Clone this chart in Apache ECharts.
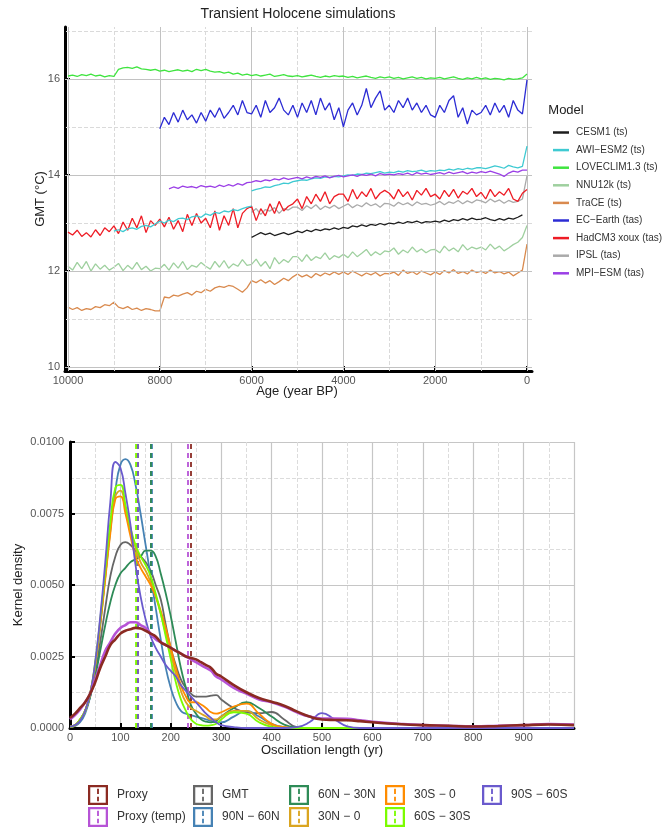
<!DOCTYPE html>
<html><head><meta charset="utf-8">
<script src="https://cdn.jsdelivr.net/npm/echarts@6/dist/echarts.min.js"></script>
<style>html,body{margin:0;padding:0;background:#fff}#c{width:662px;height:827px}</style>
</head><body><div id="c"></div>
<script>
// ---------------- Top chart data (GMT, °C; ages in year BP, 100-yr steps) ----------------
const topNames = ['CESM1 (ts)','AWI\u2212ESM2 (ts)','LOVECLIM1.3 (ts)','NNU12k (ts)','TraCE (ts)','EC\u2212Earth (tas)','HadCM3 xoux (tas)','IPSL (tas)','MPI\u2212ESM (tas)'];
const topColors = ['#1e1e1e','#3fcad2','#3fe43f','#9fd09f','#d98a4e','#2c2cd4','#ee1c25','#aaaaaa','#9b3fe6'];

const loveclim = [16.06,16.08,16.05,16.09,16.07,16.1,16.06,16.08,16.04,16.07,
16.05,16.2,16.23,16.24,16.22,16.25,16.21,16.2,16.18,16.2,
16.16,16.18,16.15,16.17,16.19,16.16,16.18,16.15,16.2,16.17,
16.2,16.16,16.14,16.15,16.12,16.14,16.1,16.12,16.08,16.1,
16.07,16.09,16.06,16.08,16.1,16.05,16.07,16.09,16.06,16.05,
16.07,16.04,16.06,16.08,16.05,16.03,16.06,16.04,16.07,16.05,
16.06,16.03,16.05,16.02,16.04,16.06,16.03,16.01,16.04,16.02,
16.04,16.01,16.03,16.0,16.02,16.04,16.01,16.03,16.0,16.02,
16.01,16.03,16.0,16.02,16.04,16.01,15.99,16.02,16.0,16.03,
16.0,16.02,15.99,16.01,16.0,15.98,16.01,15.99,16.0,16.02,16.1];
const ecEarth = [14.96,15.2,15.05,15.3,15.1,15.35,15.15,15.25,15.08,15.3,
15.12,15.35,15.2,15.4,15.18,15.3,15.45,15.25,15.55,15.3,
15.27,15.45,15.2,15.55,15.3,15.4,15.6,15.35,15.25,15.45,
15.2,15.5,15.3,15.55,15.25,15.6,15.35,15.5,15.15,15.4,
15.0,15.35,15.5,15.25,15.45,15.8,15.4,15.6,15.75,15.35,
15.45,15.3,15.55,15.4,15.6,15.35,15.5,15.3,15.45,15.25,
15.2,15.45,15.3,15.55,15.65,15.2,15.4,15.06,15.35,15.25,
15.3,15.45,15.25,15.5,15.3,15.45,15.2,15.55,15.35,15.27,15.98];
const mpiEsm = [13.71,13.75,13.72,13.77,13.74,13.76,13.73,13.78,13.75,13.77,
13.74,13.79,13.76,13.8,13.77,13.82,13.79,13.84,13.85,13.88,
13.86,13.9,13.88,13.92,13.9,13.94,13.91,13.93,13.95,13.92,
13.96,13.93,13.97,13.95,13.98,13.94,13.97,13.99,13.96,13.98,
14.0,13.97,14.01,13.99,14.02,13.98,14.03,14.0,14.02,14.0,
14.03,14.01,14.04,14.0,14.05,14.02,14.04,14.01,14.03,14.05,
14.02,14.06,14.03,14.05,14.07,14.03,14.06,14.04,14.07,14.05,
14.08,14.05,14.02,13.97,14.04,14.08,14.06,14.1,14.1];
const awiLower = [12.83,12.86,12.82,12.88,12.9,12.87,12.93,12.95,12.92,12.98,
13.04,13.0,13.06,13.03,13.09,13.1,13.07,13.13,13.15,13.12,
13.19,13.16,13.22,13.2,13.25,13.23,13.28,13.26,13.3,13.33,13.35];
const awiUpper = [13.67,13.7,13.72,13.75,13.74,13.78,13.8,13.83,13.82,13.86,
13.88,13.9,13.89,13.92,13.94,13.93,13.96,13.95,13.97,13.96,
13.98,14.0,13.99,14.02,14.01,14.04,14.03,14.05,14.07,14.04,
14.06,14.05,14.08,14.06,14.09,14.07,14.08,14.1,14.07,14.09,
14.08,14.1,14.09,14.12,14.1,14.13,14.11,14.14,14.12,14.15,
14.15,14.13,14.16,14.19,14.17,14.14,14.2,14.17,14.15,14.18,14.6];
const hadcm3 = [12.81,12.75,12.85,12.72,12.8,12.71,12.86,12.74,12.9,12.82,
12.94,12.78,13.02,12.85,13.1,12.9,13.15,12.8,13.05,12.95,
13.08,12.92,13.12,12.87,13.05,12.82,13.18,12.95,13.2,13.0,
13.1,12.9,13.25,12.85,13.15,12.95,13.3,12.9,13.2,13.3,
13.35,13.05,13.3,13.15,13.4,13.2,13.45,13.25,13.35,13.4,
13.5,13.3,13.55,13.4,13.6,13.45,13.65,13.4,13.55,13.6,
13.6,13.45,13.7,13.5,13.65,13.55,13.72,13.5,13.62,13.68,
13.62,13.5,13.7,13.55,13.65,13.48,13.68,13.58,13.72,13.55,
13.6,13.5,13.68,13.55,13.7,13.52,13.66,13.6,13.72,13.55,
13.64,13.5,13.7,13.55,13.65,13.58,13.72,13.5,13.45,13.62,13.7];
const ipsl = [13.22,13.3,13.18,13.28,13.25,13.32,13.2,13.3,13.27,13.33,
13.33,13.26,13.36,13.3,13.38,13.28,13.35,13.31,13.37,13.3,
13.35,13.4,13.32,13.38,13.34,13.42,13.36,13.4,13.33,13.41,
13.4,13.35,13.43,13.38,13.42,13.36,13.44,13.39,13.41,13.37,
13.4,13.45,13.38,13.44,13.41,13.47,13.4,13.46,13.42,13.48,
13.46,13.42,13.5,13.44,13.48,13.41,13.47,13.43,13.45,13.5,13.98];
const cesm1 = [12.7,12.75,12.8,12.76,12.79,12.74,12.77,12.8,12.76,12.79,
12.83,12.8,12.85,12.82,12.87,12.84,12.88,12.86,12.9,12.87,
12.91,12.89,12.94,12.92,12.96,12.93,12.97,12.95,12.99,12.96,
13.0,12.98,13.02,12.99,13.03,13.01,13.04,13.0,13.03,13.02,
13.04,13.02,13.06,13.03,13.07,13.05,13.09,13.06,13.1,13.07,
13.08,13.11,13.07,13.05,13.09,13.06,13.1,13.08,13.12,13.17];
const nnu12k = [12.1,12.02,12.18,12.05,12.2,12.0,12.15,12.04,12.12,12.02,
12.08,12.16,12.01,12.12,12.04,12.18,12.03,12.1,12.0,12.06,
12.05,12.14,12.02,12.17,12.06,12.2,12.03,12.12,12.08,12.18,
12.1,12.04,12.2,12.08,12.22,12.06,12.15,12.1,12.24,12.12,
12.14,12.25,12.1,12.2,12.05,12.28,12.15,12.24,12.18,12.3,
12.3,12.2,12.34,12.22,12.3,12.26,12.38,12.24,12.32,12.28,
12.35,12.28,12.4,12.3,12.37,12.45,12.32,12.4,12.34,12.42,
12.4,12.48,12.35,12.44,12.38,12.5,12.4,12.46,12.38,12.44,
12.45,12.38,12.52,12.42,12.48,12.4,12.55,12.44,12.5,12.46,
12.5,12.44,12.56,12.46,12.52,12.42,12.48,12.55,12.6,12.7,12.95];
const trace = [11.25,11.2,11.24,11.18,11.22,11.2,11.26,11.24,11.3,11.28,
11.35,11.25,11.22,11.26,11.2,11.23,11.18,11.22,11.2,11.17,
11.17,11.46,11.44,11.5,11.48,11.52,11.55,11.5,11.58,11.55,
11.62,11.58,11.65,11.68,11.66,11.7,11.68,11.62,11.56,11.65,
11.8,11.76,11.82,11.75,11.8,11.72,11.78,11.85,11.8,11.88,
11.94,11.88,11.92,11.86,11.95,11.9,11.96,11.92,11.98,11.93,
11.98,11.93,12.0,11.95,11.9,11.96,11.92,11.97,11.9,11.95,
11.94,11.98,11.91,12.02,11.95,11.99,11.93,12.0,11.96,11.92,
11.98,11.93,12.01,11.96,12.03,11.95,11.99,11.94,12.02,11.97,
12.0,11.95,12.02,11.96,11.99,11.94,11.98,11.9,11.96,12.02,12.56];

const topXTicks = [0,2000,4000,6000,8000,10000];
const topXMinor = [1000,3000,5000,7000,9000];
const topYTicks = [10,12,14,16];
const topYMinor = [11,13,15,17];

// ---------------- Bottom chart data (kernel density of oscillation length, yr) ----------------
const densX = [0,10,20,30,40,50,60,70,80,90,100,110,120,130,140,150,160,170,180,190,200,210,220,230,240,250,260,270,280,290,300,
325,350,375,400,425,450,475,500,525,550,575,600,650,700,750,800,850,900,950,1000];
const bottomNames = ['Proxy','Proxy (temp)','GMT','90N \u2212 60N','60N \u2212 30N','30N \u2212 0','30S \u2212 0','60S \u2212 30S','90S \u2212 60S'];
const bottomColors = ['#8b2a22','#b653d6','#666666','#4682b4','#2e8b57','#daa520','#ff8c00','#7cfc00','#6a5acd'];
const dProxy = [0.00035,0.0005,0.0007,0.0009,0.0012,0.0016,0.0021,0.0025,0.0029,0.0031,0.0033,0.0034,0.00345,0.0035,0.00348,0.0034,0.0033,0.0032,0.003,0.0029,0.0028,0.0027,0.0026,0.0025,0.00245,0.0024,0.0023,0.0022,0.0021,0.0019,0.0018,
0.0015,0.00125,0.00105,0.00092,0.00078,0.00058,0.0004,0.0003,0.00028,0.00027,0.00024,0.0002,
0.00014,0.0001,0.00008,0.00005,0.00007,0.0001,0.00012,0.0001];
const dProxyTemp = [0.0003,0.00045,0.00065,0.0009,0.0012,0.0017,0.0022,0.0027,0.003,0.0033,0.0035,0.0036,0.0037,0.0037,0.0036,0.0035,0.0033,0.0031,0.003,0.0029,0.0028,0.0027,0.0026,0.0025,0.0024,0.0023,0.0022,0.0021,0.002,0.0018,0.0017,
0.0014,0.0012,0.001,0.0009,0.00075,0.00055,0.0004,0.00033,0.00033,0.00032,0.00027,0.00022,
0.00015,0.0001,0.00008,0.00006,0.00008,0.0001,0.00014,0.00012];
const dGMT = [0.00005,0.0001,0.00025,0.0006,0.0011,0.0019,0.003,0.0042,0.0053,0.006,0.0064,0.0065,0.0064,0.0062,0.006,0.0058,0.0055,0.005,0.0045,0.0036,0.0028,0.0022,0.0017,0.0014,0.0012,0.0011,0.0011,0.0011,0.00113,0.00115,0.001,
0.0007,0.00055,0.00052,0.00056,0.0003,0.00003,0,0,0,0,0,0,
0,0,0,0,0,0,0,0];
const d90N60N = [0.00003,0.00007,0.0002,0.0005,0.0011,0.0021,0.0036,0.0053,0.0069,0.0083,0.0092,0.0094,0.0092,0.0085,0.0075,0.0064,0.0053,0.0042,0.0031,0.0021,0.0014,0.0009,0.0006,0.0005,0.00045,0.0004,0.00035,0.0003,0.00025,0.0002,0.0002,
0.0004,0.0006,0.0004,0.00015,0.00003,0,0,0,0,0,0,0,
0,0,0,0,0,0,0,0];
const d60N30N = [0.00005,0.0001,0.0003,0.0006,0.0011,0.0018,0.0027,0.0036,0.0044,0.005,0.0054,0.0056,0.0058,0.0059,0.006,0.0062,0.0062,0.006,0.0054,0.0047,0.0039,0.003,0.0021,0.0014,0.0008,0.0005,0.0003,0.00022,0.0002,0.00025,0.0004,
0.0007,0.0009,0.0007,0.0004,0.00012,0.00002,0,0,0,0,0,0,
0,0,0,0,0,0,0,0];
const d30N0 = [0.00005,0.0001,0.0003,0.0006,0.0012,0.0022,0.0037,0.0053,0.007,0.0081,0.0083,0.0077,0.0069,0.0063,0.0058,0.0055,0.0051,0.0046,0.004,0.0033,0.0026,0.0019,0.0013,0.0009,0.0007,0.0006,0.0005,0.0004,0.0003,0.0003,0.0004,
0.0006,0.0006,0.0003,0.0001,0.00002,0,0,0,0,0,0,0,
0,0,0,0,0,0,0,0];
const d30S0 = [0.00005,0.0001,0.0003,0.0006,0.0012,0.0022,0.0036,0.0052,0.0068,0.008,0.0081,0.0075,0.0067,0.006,0.0056,0.0053,0.005,0.0046,0.0041,0.0035,0.0028,0.0021,0.0015,0.0011,0.0009,0.0009,0.00082,0.0007,0.00055,0.0005,0.00055,
0.00075,0.00085,0.0005,0.00015,0.00003,0,0,0,0,0,0,0,
0,0,0,0,0,0,0,0];
const d60S30S = [0.00005,0.0001,0.0003,0.0006,0.0012,0.0023,0.0038,0.0055,0.0072,0.0084,0.0085,0.0078,0.007,0.0064,0.006,0.0057,0.0053,0.0047,0.004,0.0032,0.0024,0.0016,0.001,0.0006,0.0003,0.00015,0.0001,0.00008,0.0001,0.00015,0.0003,
0.00055,0.0005,0.0002,0.00004,0,0,0,0,0,0,0,0,
0,0,0,0,0,0,0,0];
const d90S60S = [0.00005,0.0001,0.00025,0.0006,0.0012,0.0023,0.0039,0.0058,0.0079,0.0093,0.0091,0.0082,0.0071,0.0057,0.0046,0.0038,0.0032,0.0028,0.0025,0.0022,0.002,0.0018,0.0015,0.0013,0.0011,0.0009,0.0007,0.0005,0.00035,0.0002,0.0001,
0.00003,0,0,0,0,0.00003,0.0002,0.00052,0.0003,0.00006,0,0,
0,0,0,0,0,0,0,0];
const meanLengths = [240,234,161,162,160,133,135,131,135];

// ---------------- Build ----------------
const FONT = 'Liberation Sans, Arial, sans-serif';
const pairs = (start, vals) => vals.map((v, i) => [start - 100 * i, v]);
const topSeriesData = [
  pairs(6000, cesm1),
  pairs(9000, awiLower).concat([[6000, null]], pairs(6000, awiUpper)),
  pairs(10000, loveclim),
  pairs(10000, nnu12k),
  pairs(10000, trace),
  pairs(8000, ecEarth),
  pairs(10000, hadcm3),
  pairs(6000, ipsl),
  pairs(7800, mpiEsm)
];
const drawOrder = [3,4,0,7,6,1,8,5,2];
const major = {type:'solid', color:'#c2c2c2', width:1};
const minor = {type:'dashed', color:'#dadada', width:1};

const series = [];
series.push({
  type:'line', xAxisIndex:0, yAxisIndex:0, data:[], silent:true, z:1,
  markLine:{silent:true, symbol:['none','none'], label:{show:false}, animation:false,
    data: [].concat(
      topXMinor.map(v => ({xAxis:v, lineStyle:minor})),
      topYMinor.map(v => ({yAxis:v, lineStyle:minor})),
      topXTicks.map(v => ({xAxis:v, lineStyle:major})),
      topYTicks.map(v => ({yAxis:v, lineStyle:major})))
  }
});
drawOrder.forEach((i, k) => {
  series.push({
    name: topNames[i], type:'line', xAxisIndex:0, yAxisIndex:0,
    data: topSeriesData[i], symbol:'none', connectNulls:false,
    lineStyle:{color: topColors[i], width: 1.3}, itemStyle:{color: topColors[i]},
    z: 3 + k
  });
});
const densSets = [dProxy,dProxyTemp,dGMT,d90N60N,d60N30N,d30N0,d30S0,d60S30S,d90S60S];
const bOrder = [2,3,4,5,6,7,8,1,0];
bOrder.forEach((i, k) => {
  series.push({
    name: bottomNames[i], type:'line', xAxisIndex:1, yAxisIndex:1,
    data: densX.map((x, j) => [x, densSets[i][j]]),
    symbol:'none', smooth:0.5,
    lineStyle:{color: bottomColors[i], width: i < 2 ? 2.6 : 1.8},
    itemStyle:{color: bottomColors[i]}, z: 3 + k,
    markLine:{silent:true, symbol:['none','none'], label:{show:false}, animation:false,
      data:[{xAxis: meanLengths[i]}],
      lineStyle:{color: bottomColors[i], type:[5,4], width:2, opacity:0.9}}
  });
});

const boxIcon = 'path://M0,0H22V22H0Z M2.5,2.5V19.5H19.5V2.5Z M10,4H12V10H10Z M10,13H12V18H10Z';
const legCols = [[0,1],[2,3],[4,5],[6,7],[8]];
const legLeft = [88,193,289,385,482];
const legends = [{
  orient:'vertical', left:553, top:126, padding:0, itemWidth:16, itemHeight:2.5, itemGap:4.6,
  icon:'rect', data: topNames, selectedMode:false,
  itemStyle:{borderWidth:0},
  textStyle:{fontSize:10, color:'#333', fontFamily:FONT, lineHeight:13, padding:[0,0,0,2]}
}];
legCols.forEach((c, k) => legends.push({
  orient:'vertical', left: legLeft[k], top:785, padding:0, itemWidth:22, itemHeight:20, itemGap:2,
  icon: boxIcon, data: c.map(i => bottomNames[i]), selectedMode:false,
  itemStyle:{borderWidth:0},
  textStyle:{fontSize:12, color:'#333', fontFamily:FONT, padding:[0,0,0,3]}
}));

const txt = (x, y, s, size, rot) => ({type:'text', x, y, rotation: rot || 0,
  style:{text:s, fontSize:size, fill:'#222', fontFamily:FONT, align:'center', verticalAlign:'middle'}});

const option = {
  animation:false,
  backgroundColor:'#fff',
  textStyle:{fontFamily:FONT},
  grid:[
    {left:65, top:27, width:467, height:344},
    {left:70, top:442, width:504, height:286}
  ],
  xAxis:[
    {type:'value', gridIndex:0, min:-109, max:10065, inverse:true,
     axisLine:{onZero:false, lineStyle:{color:'#000', width:3}},
     axisTick:{inside:true, length:5, customValues: topXTicks, lineStyle:{color:'#000', width:2}},
     axisLabel:{customValues: topXTicks, color:'#555', fontSize:11, margin:4, fontFamily:FONT, formatter: v => String(v)},
     splitLine:{show:false}},
    {type:'value', gridIndex:1, min:0, max:1000, interval:100,
     axisLine:{onZero:false, lineStyle:{color:'#000', width:3}},
     axisTick:{inside:true, length:5, lineStyle:{color:'#000', width:2}},
     axisLabel:{color:'#555', fontSize:11, margin:4, fontFamily:FONT, showMaxLabel:false},
     splitLine:{show:true, lineStyle:{color:'#c6c6c6', width:1.2}},
     minorTick:{show:false, splitNumber:2},
     minorSplitLine:{show:true, lineStyle:{color:'#dcdcdc', type:'dashed', width:1}}}
  ],
  yAxis:[
    {type:'value', gridIndex:0, min:9.92, max:17.08,
     axisLine:{onZero:false, lineStyle:{color:'#000', width:3}},
     axisTick:{inside:true, length:5, customValues: topYTicks, lineStyle:{color:'#000', width:2}},
     axisLabel:{customValues: topYTicks, color:'#555', fontSize:11, margin:5, fontFamily:FONT},
     splitLine:{show:false}},
    {type:'value', gridIndex:1, min:0, max:0.01, interval:0.0025,
     axisLine:{onZero:false, lineStyle:{color:'#000', width:3}},
     axisTick:{inside:true, length:5, lineStyle:{color:'#000', width:2}},
     axisLabel:{color:'#555', fontSize:11, margin:6, fontFamily:FONT, formatter: v => v.toFixed(4)},
     splitLine:{show:true, lineStyle:{color:'#c6c6c6', width:1.2}},
     minorTick:{show:false, splitNumber:2},
     minorSplitLine:{show:true, lineStyle:{color:'#dcdcdc', type:'dashed', width:1}}}
  ],
  legend: legends,
  graphic: [
    txt(298, 14, 'Transient Holocene simulations', 14),
    txt(40, 199, 'GMT (\u00b0C)', 13, Math.PI/2),
    txt(297, 391, 'Age (year BP)', 13),
    txt(566, 110, 'Model', 13),
    txt(18, 585, 'Kernel density', 13, Math.PI/2),
    txt(322, 750, 'Oscillation length (yr)', 13)
  ],
  series: series
};
const chart = echarts.init(document.getElementById('c'), null, {renderer:'canvas'});
chart.setOption(option);
</script></body></html>
